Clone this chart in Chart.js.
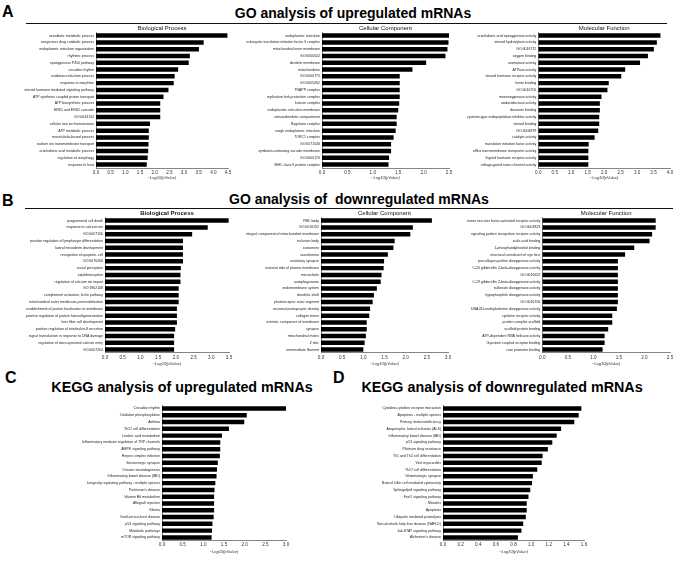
<!DOCTYPE html>
<html><head><meta charset="utf-8">
<script src="https://cdn.jsdelivr.net/npm/chart.js@4.4.0/dist/chart.umd.min.js"></script>
<style>
html,body{margin:0;padding:0;background:#fff;width:680px;height:562px;overflow:hidden;font-family:"Liberation Sans",Arial,sans-serif;}
.abs{position:absolute;margin:0;padding:0;}
.letter{font-weight:bold;font-size:16px;line-height:16px;color:#000;}
.title{font-weight:bold;font-size:14px;line-height:14px;text-align:center;white-space:pre;color:#000;}
.rule{height:0;border-top:1.2px solid #111;}
canvas{position:absolute;}
</style></head><body>
<div class="abs letter" style="left:2px;top:3.5px;">A</div>
<div class="abs title" style="left:203px;width:300px;top:5.5px;">GO analysis of upregulated mRNAs</div>
<div class="abs rule" style="left:26px;width:641px;top:22.5px;"></div>
<div class="abs letter" style="left:2px;top:193px;">B</div>
<div class="abs title" style="left:199px;width:320px;top:192.2px;">GO analysis of  downregulated mRNAs</div>
<div class="abs rule" style="left:25px;width:648px;top:207.5px;"></div>
<div class="abs letter" style="left:5px;top:370px;">C</div>
<div class="abs title" style="left:32px;width:300px;top:380px;font-size:14.3px;line-height:14.3px;">KEGG analysis of upregulated mRNAs</div>
<div class="abs letter" style="left:333px;top:370px;">D</div>
<div class="abs title" style="left:352px;width:300px;top:380px;font-size:14.3px;line-height:14.3px;">KEGG analysis of downregulated mRNAs</div>

<canvas id="aBP"></canvas><canvas id="aCC"></canvas><canvas id="aMF"></canvas>
<canvas id="bBP"></canvas><canvas id="bCC"></canvas><canvas id="bMF"></canvas>
<canvas id="cK"></canvas><canvas id="dK"></canvas>
<script>
// ---- Panel A: GO upregulated ----
const upBpLabels = ["xenobiotic metabolic process","exogenous drug catabolic process","endoplasmic reticulum organization","rhythmic process","epoxygenase P450 pathway","circadian rhythm","oxidation-reduction process","response to morphine","steroid hormone mediated signaling pathway","ATP synthesis coupled proton transport","ATP biosynthetic process","ERK1 and ERK2 cascade","GO:0043134","cellular iron ion homeostasis","ATP metabolic process","microtubule-based process","sodium ion transmembrane transport","arachidonic acid metabolic process","regulation of autophagy","response to heat"];
const upBpValues = [4.48,3.67,3.51,3.20,3.16,2.80,2.68,2.65,2.47,2.30,2.19,2.19,2.19,1.84,1.80,1.80,1.79,1.78,1.76,1.73];

const upCcLabels = ["endoplasmic reticulum","eukaryotic translation initiation factor 3 complex","mitochondrial inner membrane","GO:0000502","dendrite membrane","mitochondrion","GO:0000775","GO:0005262","TRAPP complex","replication fork protection complex","kinesin complex","endoplasmic reticulum membrane","somatodendritic compartment","Ragulator complex","rough endoplasmic reticulum","TORC1 complex","GO:0071546","symbiont-containing vacuole membrane","GO:0000176","MHC class II protein complex"];
const upCcValues = [2.50,2.49,2.47,2.43,2.05,1.78,1.53,1.53,1.53,1.53,1.52,1.50,1.47,1.47,1.45,1.41,1.36,1.36,1.32,1.31];

const upMfLabels = ["arachidonic acid epoxygenase activity","steroid hydroxylase activity","GO:0016712","oxygen binding","aromatase activity","ATPase activity","steroid hormone receptor activity","heme binding","GO:0016705","monooxygenase activity","oxidoreductase activity","ribosome binding","cysteine-type endopeptidase inhibitor activity","steroid binding","GO:0004879","catalytic activity","translation initiation factor activity","efflux transmembrane transporter activity","thyroid hormone receptor activity","voltage-gated anion channel activity"];
const upMfValues = [3.71,3.60,3.51,3.33,3.09,2.64,2.52,2.14,2.10,1.92,1.87,1.87,1.85,1.85,1.82,1.71,1.53,1.52,1.52,1.52];

// ---- Panel B: GO downregulated ----
const downBpLabels = ["programmed cell death","response to calcium ion","GO:0007156","positive regulation of lymphocyte differentiation","lateral mesoderm development","recognition of apoptotic cell","GO:0070206","visual perception","equilibrioception","regulation of calcium ion import","GO:1902108","complement activation, lectin pathway","mitochondrial outer membrane permeabilization","establishment of protein localization to membrane","positive regulation of protein homooligomerization","lens fiber cell development","positive regulation of interleukin-8 secretion","signal transduction in response to DNA damage","regulation of store-operated calcium entry","GO:0007204"];
const downBpValues = [3.49,2.90,2.46,2.20,2.20,2.20,2.20,2.14,2.13,2.13,2.08,2.08,2.08,2.03,2.03,2.03,1.98,1.95,1.95,1.95];

const downCcLabels = ["PML body","GO:0016152","integral component of mitochondrial membrane","inclusion body","costamere","sarcolemma","excitatory synapse","external side of plasma membrane","microtubule","autophagosome","endomembrane system","dendritic shaft","photoreceptor outer segment","neuronal postsynaptic density","collagen trimer","extrinsic component of membrane","synapse","mitochondrial matrix","Z disc","intermediate filament"];
const downCcValues = [2.62,2.17,2.11,1.74,1.71,1.58,1.49,1.48,1.43,1.41,1.32,1.25,1.22,1.16,1.14,1.08,1.08,1.06,1.03,1.00];

const downMfLabels = ["tumor necrosis factor-activated receptor activity","GO:0003823","signaling pattern recognition receptor activity","sialic acid binding","1-phosphatidylinositol binding","structural constituent of eye lens","procollagen-proline dioxygenase activity","C-20 gibberellin 2-beta-dioxygenase activity","GO:0016652","C-19 gibberellin 2-beta-dioxygenase activity","sulfonate dioxygenase activity","hypophosphite dioxygenase activity","GO:0016706","DNA-N1-methyladenine dioxygenase activity","cytokine receptor activity","protein complex scaffold","scaffold protein binding","ATP-dependent RNA helicase activity","G-protein coupled receptor binding","core promoter binding"];
const downMfValues = [2.22,2.22,2.15,2.10,1.80,1.62,1.48,1.48,1.48,1.48,1.48,1.48,1.48,1.46,1.37,1.37,1.29,1.22,1.22,1.18];

// ---- Panel C: KEGG upregulated ----
const keggUpLabels = ["Circadian rhythm","Oxidative phosphorylation","Asthma","Th17 cell differentiation","Linoleic acid metabolism","Inflammatory mediator regulation of TRP channels","AMPK signaling pathway","Herpes simplex infection","Serotonergic synapse","Ovarian steroidogenesis","Inflammatory bowel disease (IBD)","Longevity regulating pathway - multiple species","Parkinson's disease","Vitamin B6 metabolism","Allograft rejection","Glioma","Graft-versus-host disease","p53 signaling pathway","Metabolic pathways","mTOR signaling pathway"];
const keggUpValues = [3.00,2.05,1.99,1.62,1.45,1.41,1.41,1.40,1.35,1.33,1.32,1.29,1.27,1.26,1.26,1.26,1.25,1.22,1.21,1.20];

// ---- Panel D: KEGG downregulated ----
const keggDownLabels = ["Cytokine-cytokine receptor interaction","Apoptosis - multiple species","Primary immunodeficiency","Amyotrophic lateral sclerosis (ALS)","Inflammatory bowel disease (IBD)","p53 signaling pathway","Platinum drug resistance","Th1 and Th2 cell differentiation","Viral myocarditis","Th17 cell differentiation","Glutamatergic synapse","Natural killer cell mediated cytotoxicity","Sphingolipid signaling pathway","FoxO signaling pathway","Measles","Apoptosis","Ubiquitin mediated proteolysis","Non-alcoholic fatty liver disease (NAFLD)","Jak-STAT signaling pathway","Alzheimer's disease"];
const keggDownValues = [1.57,1.54,1.49,1.34,1.29,1.24,1.19,1.13,1.12,1.07,1.02,1.01,0.99,0.97,0.95,0.95,0.94,0.91,0.89,0.85];

const axisTitle = "\u2212Log10(pValue)";
const FAM = "'Liberation Sans', Arial, sans-serif";

function barChart(id, labels, values, cfg) {
  const c = document.getElementById(id);
  const subLH = 7.2;
  const topSpace = cfg.subtitle ? subLH : 4;
  const top = cfg.plotTop - topSpace;
  const padR = 8;
  const W = Math.round(cfg.plotRight + padR - cfg.left);
  const H = Math.round(cfg.plotBottom + cfg.xAxisH - top) ;
  c.style.left = cfg.left + 'px';
  c.style.top = top + 'px';
  c.width = W; c.height = H;
  c.style.width = W + 'px'; c.style.height = H + 'px';
  const xAxisH = H - (cfg.plotBottom - top);
  new Chart(c, {
    type: 'bar',
    data: { labels: labels, datasets: [{ data: values, backgroundColor: '#000', borderWidth: 0, barPercentage: 0.66, categoryPercentage: 1 }] },
    options: {
      indexAxis: 'y', responsive: false, animation: false, devicePixelRatio: 1,
      layout: { padding: { left: 0, right: padR, top: cfg.subtitle ? 0 : topSpace, bottom: 0 } },
      plugins: {
        legend: { display: false }, tooltip: { enabled: false },
        title: { display: !!cfg.subtitle, text: cfg.subtitle || '', fullSize: false,
          font: { size: 6, weight: cfg.bold ? 'bold' : 'normal', family: FAM }, color: '#111',
          padding: { top: 0, bottom: 0 } }
      },
      scales: {
        x: {
          min: 0, max: cfg.max,
          grid: { display: false, drawTicks: false },
          border: { display: true, color: '#666', width: 0.8 },
          ticks: { stepSize: cfg.step, autoSkip: false, maxRotation: 0, padding: 1.5,
            font: { size: 4.6, family: FAM }, color: '#333',
            callback: v => Number(v).toFixed(1) },
          title: { display: true, text: axisTitle, color: '#333',
            font: { size: 4, style: 'italic', family: FAM }, padding: { top: 0, bottom: 0 } },
          afterFit: s => { s.height = xAxisH; }
        },
        y: {
          grid: { display: false, drawTicks: false },
          border: { display: true, color: '#666', width: 0.8 },
          ticks: { autoSkip: false, padding: 2, font: { size: 3.5, family: FAM }, color: '#222' },
          afterFit: s => { s.width = cfg.axisX - cfg.left; }
        }
      }
    }
  });
}

barChart('aBP', upBpLabels, upBpValues, { left: 2, axisX: 96, plotRight: 228, plotTop: 32.6, plotBottom: 168.4, max: 4.5, step: 0.5, xAxisH: 12, subtitle: 'Biological Process' });
barChart('aCC', upCcLabels, upCcValues, { left: 236, axisX: 322, plotRight: 449.3, plotTop: 32.6, plotBottom: 168.4, max: 2.5, step: 0.5, xAxisH: 12, subtitle: 'Cellular Component' });
barChart('aMF', upMfLabels, upMfValues, { left: 458, axisX: 538.3, plotRight: 670.3, plotTop: 32.6, plotBottom: 168.4, max: 4.0, step: 0.5, xAxisH: 12, subtitle: 'Molecular Function' });

barChart('bBP', downBpLabels, downBpValues, { left: 2, axisX: 105, plotRight: 229.3, plotTop: 217.6, plotBottom: 353.4, max: 3.5, step: 0.5, xAxisH: 13, subtitle: 'Biological Process', bold: true });
barChart('bCC', downCcLabels, downCcValues, { left: 236, axisX: 321, plotRight: 448, plotTop: 217.6, plotBottom: 353.4, max: 3.0, step: 0.5, xAxisH: 13, subtitle: 'Cellular Component' });
barChart('bMF', downMfLabels, downMfValues, { left: 456, axisX: 542.3, plotRight: 670, plotTop: 217.6, plotBottom: 353.4, max: 2.5, step: 0.5, xAxisH: 13, subtitle: 'Molecular Function' });

barChart('cK', keggUpLabels, keggUpValues, { left: 60, axisX: 162, plotRight: 285.7, plotTop: 404.9, plotBottom: 540.7, max: 3.0, step: 0.5, xAxisH: 13 });
barChart('dK', keggDownLabels, keggDownValues, { left: 345, axisX: 443, plotRight: 584.3, plotTop: 404.9, plotBottom: 540.7, max: 1.6, step: 0.2, xAxisH: 13 });
</script>
</body></html>
